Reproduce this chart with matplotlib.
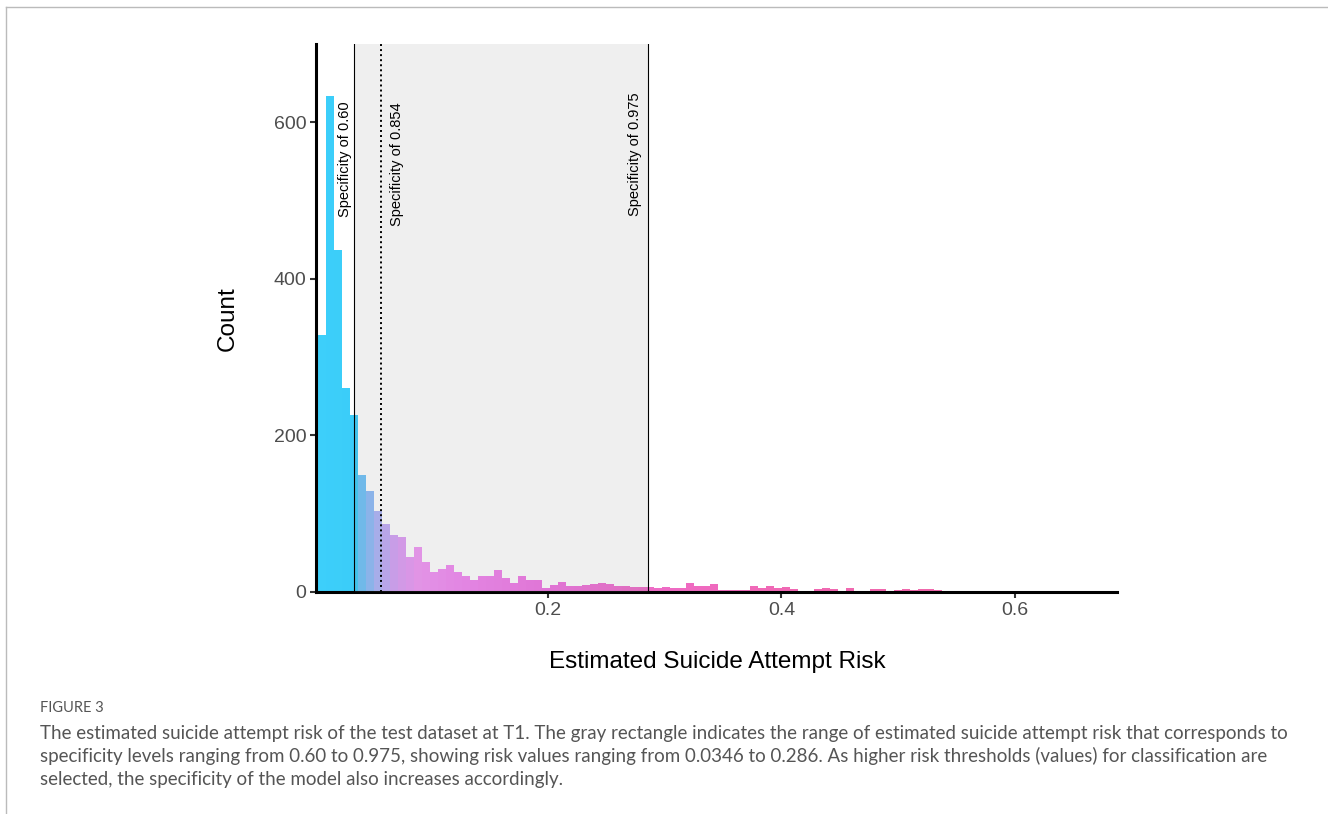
import numpy as np
import matplotlib.pyplot as plt
from matplotlib.lines import Line2D
from matplotlib.colors import to_rgb

plt.rcParams['font.family'] = ['Liberation Sans', 'DejaVu Sans']

# histogram of estimated risk (bin counts)
bin_start = 0.0034
bin_width = 0.00684
counts = [328, 634, 437, 261, 226, 149, 129, 104, 87, 73,
          70, 45, 57, 38, 26, 30, 34, 25, 20, 15,
          21, 21, 28, 18, 12, 20, 15, 15, 5, 9,
          13, 8, 8, 9, 10, 11, 10, 8, 8, 7,
          6, 6, 5, 6, 5, 5, 11, 8, 8, 10,
          2, 2, 2, 2, 8, 5, 8, 5, 6, 4,
          1, 1, 4, 5, 4, 1, 5, 1, 1, 4,
          4, 1, 3, 4, 3, 4, 4, 3]

spec_risk = [0.0346, 0.058, 0.286]
spec_labels = ['Specificity of 0.60', 'Specificity of 0.854', 'Specificity of 0.975']

x_ticks = [0.2, 0.4, 0.6]
y_ticks = [0, 200, 400, 600]

caption_head = 'FIGURE 3'
caption_lines = [
    'The estimated suicide attempt risk of the test dataset at T1. The gray rectangle indicates the range of estimated suicide attempt risk that corresponds to',
    'specificity levels ranging from 0.60 to 0.975, showing risk values ranging from 0.0346 to 0.286. As higher risk thresholds (values) for classification are',
    'selected, the specificity of the model also increases accordingly.',
]

# fill gradient along x
stop_x = [0.0, 0.0345, 0.041, 0.055, 0.07, 0.09, 0.13, 0.2, 0.28, 0.4, 0.55]
stop_c = ['#3DD0FA', '#3BCCF9', '#6EC2F8', '#AEB4F8', '#D8A0F6', '#F096F4',
          '#F086F0', '#EE74E2', '#EE6CC8', '#F068B4', '#F068AA']
stop_rgb = np.array([to_rgb(c) for c in stop_c])

counts = np.array(counts)
left = bin_start + bin_width * np.arange(len(counts))
mid = left + bin_width / 2
colors = np.column_stack([np.interp(mid, stop_x, stop_rgb[:, k]) for k in range(3)])

fig = plt.figure(figsize=(13.28, 8.14), dpi=100)
ax = fig.add_axes([316 / 1328, 1 - 592 / 814, 801 / 1328, 548 / 814])

ax.bar(left, counts, width=bin_width, align='edge', color=colors, linewidth=0, zorder=2)
ax.axvspan(spec_risk[0], spec_risk[2], facecolor='#808080', alpha=0.12, linewidth=0, zorder=3)
ax.axvline(spec_risk[0], color='black', lw=0.8, zorder=4)
ax.axvline(spec_risk[2], color='black', lw=0.8, zorder=4)
ax.axvline(spec_risk[1], color='black', lw=1.4, linestyle=(0, (1, 1.6)), zorder=4)

ax.text(0.0268, 553, spec_labels[0], rotation=90, ha='center', va='center', fontsize=10.5, zorder=5)
ax.text(0.0712, 547, spec_labels[1], rotation=90, ha='center', va='center', fontsize=10.5, zorder=5)
ax.text(0.2746, 559, spec_labels[2], rotation=90, ha='center', va='center', fontsize=10.5, zorder=5)

ax.set_xlim(0.002, 0.687)
ax.set_ylim(0, 700)
ax.set_xticks(x_ticks)
ax.set_xticklabels([str(t) for t in x_ticks])
ax.set_yticks(y_ticks)
for s in ['top', 'right']:
    ax.spines[s].set_visible(False)
for s in ['left', 'bottom']:
    ax.spines[s].set_linewidth(2.2)
    ax.spines[s].set_color('black')
ax.tick_params(length=4, width=1.5, color='#333333', labelsize=14, labelcolor='#4D4D4D', pad=3)

fig.text(228 / 1328, 1 - 319 / 814, 'Count', rotation=90, ha='center', va='center', fontsize=17.5)
fig.text(717 / 1328, 1 - 662 / 814, 'Estimated Suicide Attempt Risk', ha='center', va='center', fontsize=17.5)

cap_font = ['Lato', 'DejaVu Sans']
fig.text(40 / 1328, 1 - 708 / 814, caption_head, ha='left', va='center', fontsize=10.5,
         color='#555555', family=cap_font)
for i, line in enumerate(caption_lines):
    fig.text(40 / 1328, 1 - (733 + 23 * i) / 814, line, ha='left', va='center', fontsize=13.5,
             color='#555555', family=cap_font)

# page frame lines
fig.add_artist(Line2D([6 / 1328, 1], [1 - 7 / 814, 1 - 7 / 814], transform=fig.transFigure,
                      color='#BBBBBB', lw=1))
fig.add_artist(Line2D([6 / 1328, 6 / 1328], [1 - 7 / 814, 0], transform=fig.transFigure,
                      color='#BBBBBB', lw=1))

fig.savefig('out.png', dpi=100)
